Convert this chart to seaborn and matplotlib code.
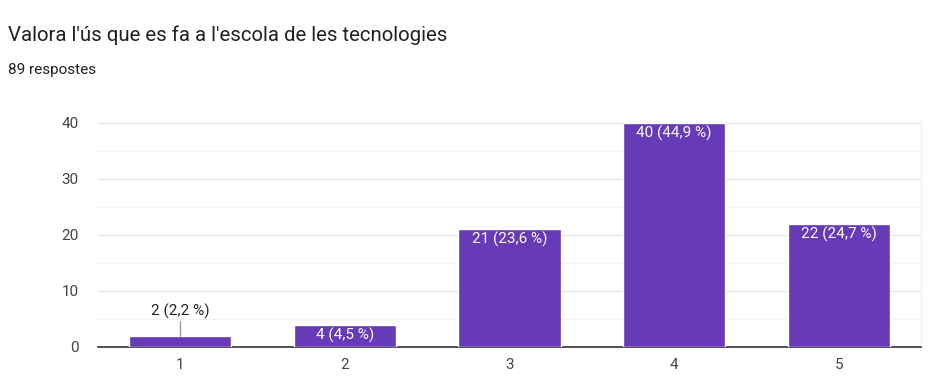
import pandas as pd
import matplotlib.pyplot as plt
import seaborn as sns

categories = ["1", "2", "3", "4", "5"]
counts = [2, 4, 21, 40, 22]
pct_labels = ["2,2 %", "4,5 %", "23,6 %", "44,9 %", "24,7 %"]

df = pd.DataFrame({"Valor": categories, "Respostes": counts})

sns.set_style("white")
plt.rcParams['font.family'] = ['Roboto', 'DejaVu Sans']

fig = plt.figure(figsize=(9.32, 3.79), dpi=100)
ax = fig.add_axes([98 / 932, 1 - 347 / 379, 823 / 932, 228 / 379])

sns.barplot(data=df, x="Valor", y="Respostes", color="#673ab7", saturation=1,
            width=0.62, ax=ax, zorder=3)

ax.set_xlim(-0.5, 4.5)
ax.set_ylim(0, 40.7)
ax.set_yticks([0, 10, 20, 30, 40])
ax.set_yticks([5, 15, 25, 35], minor=True)
ax.grid(axis="y", which="major", color="#e6e6e6", lw=1, zorder=0)
ax.grid(axis="y", which="minor", color="#f3f3f3", lw=1, zorder=0)
ax.tick_params(axis="both", which="both", length=0, labelsize=11, colors="#444444")
ax.tick_params(axis="y", pad=14)
ax.tick_params(axis="x", pad=8)
ax.set_xlabel("")
ax.set_ylabel("")
for s in ["top", "left"]:
    ax.spines[s].set_visible(False)
ax.spines["right"].set_color("#eeeeee")
ax.spines["bottom"].set_color("#333333")
ax.spines["bottom"].set_linewidth(1.2)

# etiquetes de les barres
for i, (n, p) in enumerate(zip(counts, pct_labels)):
    txt = f"{n} ({p})"
    if n < 3:
        ax.plot([i, i], [n, n + 2.7], color="#999999", lw=1, zorder=4)
        ax.text(i, n + 3.0, txt, ha="center", va="bottom", fontsize=11, color="#222222")
    else:
        ax.text(i, n - 0.5, txt, ha="center", va="top", fontsize=11, color="white",
                zorder=5, clip_on=False)

fig.text(8 / 932, 1 - 35 / 379, "Valora l'ús que es fa a l'escola de les tecnologies",
         fontsize=14.7, color="#202124", va="center")
fig.text(8 / 932, 1 - 70 / 379, "89 respostes", fontsize=11, color="#202124", va="center")

plt.savefig("out.png", dpi=100)
plt.close()
